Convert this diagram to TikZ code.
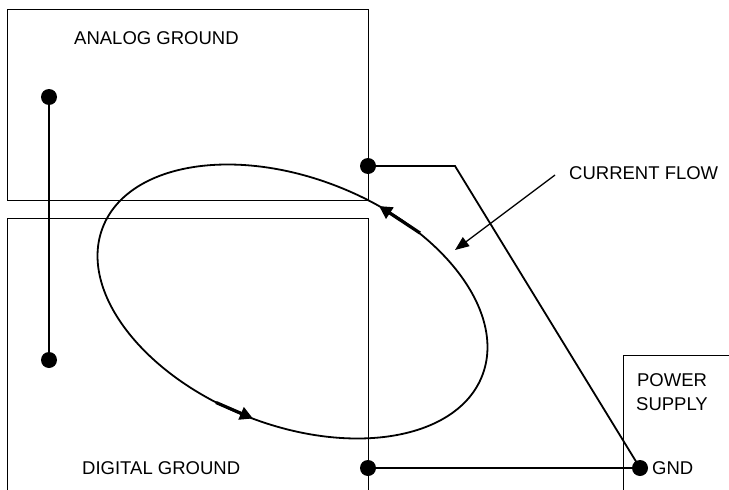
\documentclass[tikz,border=0pt]{standalone}
\usepackage{fontspec}
\setmainfont{Liberation Sans}
\usetikzlibrary{arrows.meta}
\begin{document}
\begin{tikzpicture}[x=1pt,y=-1pt,
  boxline/.style={line width=0.9pt},
  wire/.style={line width=1.8pt},
  dot/.style={circle,fill=black,inner sep=0pt,minimum size=16pt},
  lbl/.style={font=\fontsize{18.5}{22}\selectfont,inner sep=0pt},
  flowarrow/.style={line width=3.2pt,-{Triangle[length=13pt,width=13pt]}},
  pointer/.style={line width=1.3pt,-{Triangle[length=14pt,width=11pt]}}]
\useasboundingbox (0,0) rectangle (729,490);
% boxes
\draw[boxline] (7,9) rectangle (368,200);
\draw[boxline] (7,490) -- (7,218) -- (368,218) -- (368,490);
\draw[boxline] (623,490) -- (623,355) -- (729,355);
% labels
\node[lbl,anchor=west] (ag) at (74,38) {ANALOG GROUND};
\node[lbl,anchor=west] (dg) at (82,468) {DIGITAL GROUND};
\node[lbl,anchor=west] (cf) at (569,173) {CURRENT FLOW};
\node[lbl,align=center] (ps) at (672,392) {POWER\\[2pt]SUPPLY};
% dots
\node[dot] (a1) at (49,97) {};
\node[dot] (d1) at (49,360) {};
\node[dot] (a2) at (368,166) {};
\node[dot] (d2) at (368,468) {};
\node[dot] (g) at (640,468) {};
\node[lbl,anchor=west] (gnd) at (652,468) {GND};
\coordinate (k) at (455,166);
% wires
\draw[wire] (a1.center) -- (d1.center);
\draw[wire] (a2.center) -- (k) -- (g.center);
\draw[wire] (d2.center) -- (g.center);
% current loop
\draw[wire] (292.5,301.5) ellipse [x radius=203.7pt, y radius=123.6pt, rotate=-21.4];
\coordinate (t1) at (420,233);
\coordinate (t2) at (379,206);
\coordinate (b1) at (216,402.5);
\coordinate (b2) at (253,418.5);
\draw[flowarrow] (t1) -- (t2);
\draw[flowarrow] (b1) -- (b2);
% pointer
\coordinate (p0) at (555,175);
\coordinate (p1) at (455,250);
\draw[pointer] (p0) -- (p1);
\end{tikzpicture}
\end{document}
